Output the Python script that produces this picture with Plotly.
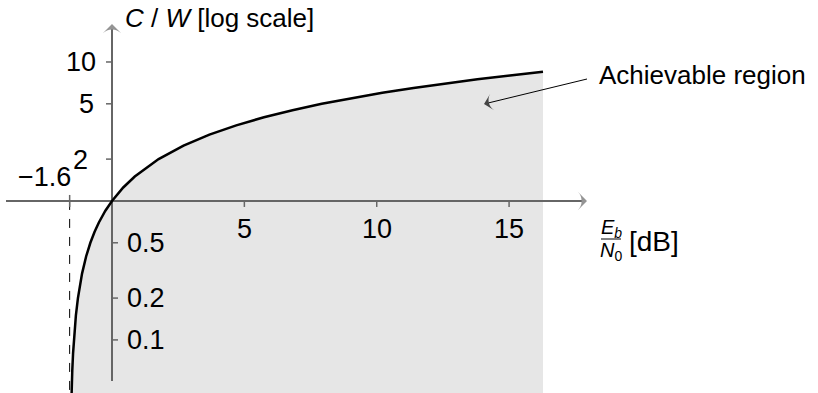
import math
import plotly.graph_objects as go

# Shannon-limit curve: spectral efficiency C/W and Eb/N0 [dB]
cw_values = [0.03, 0.035, 0.04, 0.05, 0.06, 0.08, 0.1, 0.12, 0.15, 0.2, 0.25, 0.3, 0.4, 0.5,
             0.6, 0.7, 0.85, 1.0, 1.25, 1.5, 2.0, 2.5, 3.0, 3.5, 4.0, 4.5, 5.0, 5.5, 6.0,
             6.5, 7.0, 7.5, 8.0, 8.5]
ebn0_db = [-1.546, -1.539, -1.531, -1.516, -1.501, -1.471, -1.440, -1.410, -1.364, -1.287,
           -1.210, -1.132, -0.976, -0.817, -0.657, -0.496, -0.250, 0.0, 0.425, 0.860, 1.761,
           2.702, 3.680, 4.694, 5.740, 6.818, 7.924, 9.056, 10.212, 11.390, 12.587, 13.803,
           15.034, 16.281]

shannon_limit_db = -1.6
x_ticks = [5, 10, 15]
x_tick_labels = ["5", "10", "15"]
y_ticks_upper = [10, 5, 2]
y_ticks_lower = [0.5, 0.2, 0.1]

W, H = 818, 393
X_RANGE = [-4.231, 26.67]
Y_RANGE = [-1.382, 1.446]
PX_X = W / (X_RANGE[1] - X_RANGE[0])
PX_Y = H / (Y_RANGE[1] - Y_RANGE[0])
AX_COL = "#666666"
FONT = "Liberation Sans, Arial, sans-serif"
FS = 26
FS_TICK = 27


def px_to_data(px, py):
    """pixel position (reference coordinates) -> data coordinates"""
    return X_RANGE[0] + px / PX_X, 10 ** (Y_RANGE[1] - py / PX_Y)


fig = go.Figure()

# achievable region fill
y_bottom = cw_values[0]
fill_x = ebn0_db + [ebn0_db[-1], ebn0_db[0]]
fill_y = cw_values + [y_bottom, y_bottom]
fig.add_trace(go.Scatter(x=fill_x, y=fill_y, fill="toself", mode="lines",
                         line=dict(width=0), fillcolor="#e6e6e6", hoverinfo="skip"))

# dashed Shannon-limit line
fig.add_trace(go.Scatter(x=[shannon_limit_db, shannon_limit_db], y=[1, y_bottom], mode="lines",
                         line=dict(color="black", width=1, dash="dash")))

# tick marks
dx = 6 / PX_X
dy = 6 / PX_Y
tx, ty = [], []
for t in x_ticks:
    tx += [t, t, None]
    ty += [1, 10 ** (-dy), None]
tx += [shannon_limit_db, shannon_limit_db, None]
ty += [10 ** (dy), 10 ** (-dy), None]
for t in y_ticks_upper:
    tx += [-dx, 0, None]
    ty += [t, t, None]
for t in y_ticks_lower:
    tx += [0, dx, None]
    ty += [t, t, None]
fig.add_trace(go.Scatter(x=tx, y=ty, mode="lines", line=dict(color=AX_COL, width=1.5),
                         hoverinfo="skip"))

# axes lines with arrow heads
x_axis_start = px_to_data(6, 0)[0]
x_axis_end = px_to_data(587, 0)[0]
fig.add_trace(go.Scatter(x=[x_axis_start, x_axis_end], y=[1, 1], mode="lines+markers",
                         line=dict(color=AX_COL, width=2),
                         marker=dict(symbol="arrow-wide", size=[0, 13], angleref="previous",
                                     color=AX_COL, line=dict(width=0)),
                         hoverinfo="skip"))
y_axis_bottom = px_to_data(0, 381)[1]
y_axis_top = px_to_data(0, 24)[1]
fig.add_trace(go.Scatter(x=[0, 0], y=[y_axis_bottom, y_axis_top], mode="lines+markers",
                         line=dict(color=AX_COL, width=2),
                         marker=dict(symbol="arrow-wide", size=[0, 13], angleref="previous",
                                     color=AX_COL, line=dict(width=0)),
                         hoverinfo="skip"))

# curve
fig.add_trace(go.Scatter(x=ebn0_db, y=cw_values, mode="lines",
                         line=dict(color="black", width=2.5)))

# pointer arrow of the region label
p_tail = px_to_data(587, 79)
p_tip = px_to_data(484, 104)
fig.add_trace(go.Scatter(x=[p_tail[0], p_tip[0]], y=[p_tail[1], p_tip[1]], mode="lines+markers",
                         line=dict(color="black", width=1),
                         marker=dict(symbol="arrow-wide", size=[0, 12], angleref="previous",
                                     color="black", line=dict(width=0)),
                         hoverinfo="skip"))

ann = []
# tick labels
for t, lab in zip(x_ticks, x_tick_labels):
    ann.append(dict(x=t, y=0, xref="x", yref="y", text=lab, showarrow=False,
                    yanchor="middle", yshift=-28,
                    font=dict(size=FS_TICK, family=FONT, color="black")))
shifts_upper = [(-14, 0), (-16, 0), (-22, -1)]
for t, (xs, ys) in zip(y_ticks_upper, shifts_upper):
    ann.append(dict(x=0, y=math.log10(t), xref="x", yref="y", text=str(t), showarrow=False,
                    xanchor="right", yanchor="middle", xshift=xs, yshift=ys,
                    font=dict(size=FS_TICK, family=FONT, color="black")))
for t in y_ticks_lower:
    ann.append(dict(x=0, y=math.log10(t), xref="x", yref="y", text=str(t), showarrow=False,
                    xanchor="left", yanchor="middle", xshift=13,
                    font=dict(size=FS_TICK, family=FONT, color="black")))
ann.append(dict(x=shannon_limit_db, y=0, xref="x", yref="y", text="\u22121.6", showarrow=False,
                xanchor="right", yanchor="middle", xshift=3, yshift=24,
                font=dict(size=FS_TICK, family=FONT, color="black")))

# axis titles
ann.append(dict(x=0, y=1, xref="x", yref="paper", text="<i>C</i> / <i>W</i> [log scale]",
                showarrow=False, xanchor="left", yanchor="middle", xshift=11, yshift=-18,
                font=dict(size=FS, family=FONT, color="black")))
ann.append(dict(x=611 / W, y=1 - 228 / H, xref="paper", yref="paper",
                text="<i>E<sub>b</sub></i>", showarrow=False, xanchor="center", yanchor="middle",
                font=dict(size=20, family=FONT, color="black")))
ann.append(dict(x=611 / W, y=1 - 252 / H, xref="paper", yref="paper",
                text="<i>N</i><sub>0</sub>", showarrow=False, xanchor="center", yanchor="middle",
                font=dict(size=20, family=FONT, color="black")))
ann.append(dict(x=627 / W, y=1 - 241 / H, xref="paper", yref="paper", text="[dB]",
                showarrow=False, xanchor="left", yanchor="middle",
                font=dict(size=28, family=FONT, color="black")))

# region label
ann.append(dict(x=597 / W, y=1 - 75 / H, xref="paper", yref="paper", text="Achievable region",
                showarrow=False, xanchor="left", yanchor="middle",
                font=dict(size=FS, family=FONT, color="black")))

shapes = [dict(type="line", xref="paper", yref="paper", x0=601 / W, x1=621 / W,
               y0=1 - 239 / H, y1=1 - 239 / H, line=dict(color="black", width=1))]

fig.update_layout(
    width=W, height=H, margin=dict(l=0, r=0, t=0, b=0),
    paper_bgcolor="white", plot_bgcolor="white", showlegend=False,
    xaxis=dict(range=X_RANGE, visible=False, fixedrange=True),
    yaxis=dict(type="log", range=Y_RANGE, visible=False, fixedrange=True),
    annotations=ann, shapes=shapes,
)

fig.write_html("out.html", config={"displayModeBar": False},
               post_script="document.body.style.margin='0px';document.body.style.overflow='hidden';")
